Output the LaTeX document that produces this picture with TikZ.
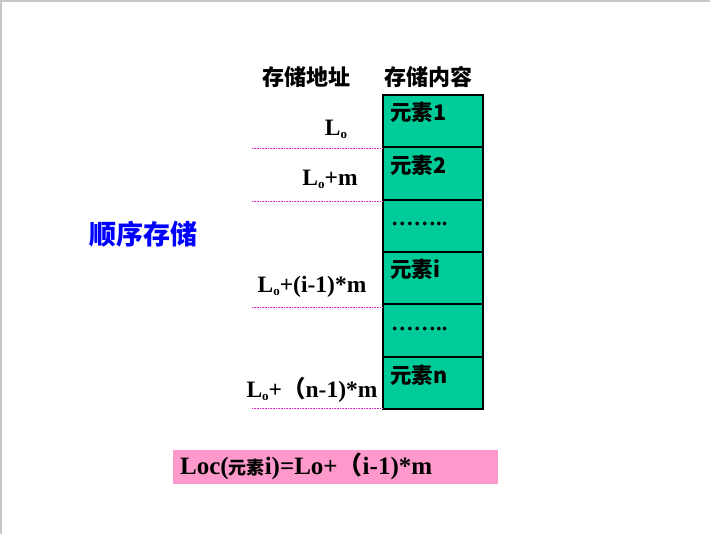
\documentclass[tikz,border=0pt]{standalone}
\usepackage{fontspec}
\setmainfont{Liberation Serif}
\newfontfamily\hei{Noto Sans CJK SC}
\definecolor{cellgreen}{RGB}{0,204,153}
\definecolor{boxpink}{RGB}{255,153,204}
\definecolor{linemag}{RGB}{230,40,200}
\newcommand{\Lsub}{L\raisebox{-0.12em}{\fontsize{13}{13}\selectfont o}}
\tikzset{
    cell/.style = {draw=black, line width=2pt, fill=cellgreen, minimum width=100pt, minimum height=52.33pt, inner sep=0pt, outer sep=0pt},
    celltext/.style = {anchor=base west, inner sep=0pt, font=\hei\bfseries\fontsize{21.5}{24}\selectfont},
    addr/.style = {anchor=base, inner sep=0pt, font=\bfseries\fontsize{23.5}{26}\selectfont},
    head/.style = {anchor=base, inner sep=0pt, font=\hei\bfseries\fontsize{22}{26}\selectfont},
    sep/.style = {linemag, densely dotted, line width=0.6pt}
}

\begin{document}
\begin{tikzpicture}[x=1pt, y=-1pt]
    \useasboundingbox (0,0) rectangle (710,534);
    \draw[gray!45, line width=1.5pt] (1,534) -- (1,1) -- (710,1);

    % headings
    \node[head] (hAddr) at (306,86) {存储地址};
    \node[head] (hCont) at (428,86) {存储内容};
    \node[anchor=base, inner sep=0pt, text=blue, font=\hei\bfseries\fontsize{27}{30}\selectfont] (seq) at (143,245) {顺序存储};

    % storage cells
    \foreach \k in {1,...,6}
        \node[cell, anchor=north west] (c\k) at (383,{95+(\k-1)*52.33}) {};
    \node[celltext] (e1) at (390,121) {元素1};
    \node[celltext] (e2) at (390,173.5) {元素2};
    \node[celltext, font=\bfseries\fontsize{22.5}{24}\selectfont] (d1) at (391,226) {……..};
    \node[celltext] (ei) at (390,278) {元素i};
    \node[celltext, font=\bfseries\fontsize{22.5}{24}\selectfont] (d2) at (391,331) {……..};
    \node[celltext] (en) at (390,384) {元素n};

    % addresses
    \node[addr] (a1) at (336,136) {\Lsub};
    \node[addr] (a2) at (330,186) {\Lsub+m};
    \node[addr] (ai) at (312,293) {\Lsub+(i-1)*m};
    \node[addr] (an) at (312,398) {\Lsub+{\hei （}n-1)*m};

    % separators
    \coordinate (s1) at (252,148);
    \coordinate (s2) at (252,201);
    \coordinate (s3) at (252,307);
    \coordinate (s4) at (252,408);
    \draw[sep] (s1) -- (s1 -| c1.west);
    \draw[sep] (s2) -- (s2 -| c1.west);
    \draw[sep] (s3) -- (s3 -| c1.west);
    \draw[sep] (s4) -- (s4 -| c1.west);

    % formula
    \node[fill=boxpink, anchor=north west, minimum width=325pt, minimum height=34pt, inner sep=0pt] (fbox) at (173,450) {};
    \node[anchor=base west, inner sep=0pt, font=\bfseries\fontsize{25}{28}\selectfont] (formula) at (180,475)
        {Loc({\hei\fontsize{18}{22}\selectfont 元素}i)=Lo+{\hei （}i-1)*m};
\end{tikzpicture}
\end{document}
